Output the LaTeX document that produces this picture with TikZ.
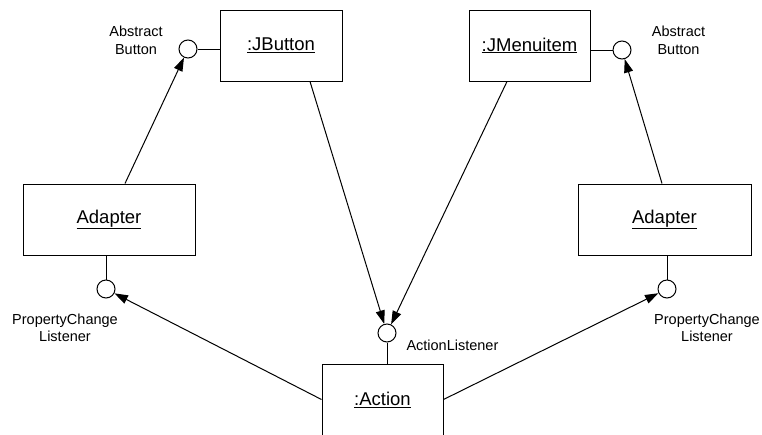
\documentclass[tikz,border=0pt]{standalone}
\usepackage{fontspec}
\setmainfont{Liberation Sans}
\usetikzlibrary{arrows.meta}
\begin{document}
\begin{tikzpicture}[x=1pt,y=-1pt,
  every path/.style={line width=1pt},
  objbox/.style={draw, line width=1pt, minimum height=71pt, inner sep=0pt,
    font=\fontsize{18.5}{22}\selectfont},
  iface/.style={draw, circle, line width=1pt, minimum size=18pt, inner sep=0pt, fill=white},
  lbl/.style={font=\fontsize{14.5}{17.5}\selectfont, align=center, inner sep=0pt},
  dep/.style={-{Triangle[length=13.5pt,width=9pt]}, line width=1pt}]
\useasboundingbox (0,0) rectangle (762,434);

% objects
\node[objbox, minimum width=122pt] (jbutton) at (281,45.5) {\underline{:JButton}};
\node[objbox, minimum width=121pt] (jmenu) at (529.5,45.5) {\underline{:JMenuitem}};
\node[objbox, minimum width=172pt] (adL) at (109,219.5) {\underline{Adapter}};
\node[objbox, minimum width=173pt] (adR) at (664.5,219.5) {\underline{Adapter}};
\node[objbox, minimum width=121pt] (action) at (382.5,399.5) {\underline{:Action}};

% provided interfaces (lollipops)
\node[iface] (abL) at (188,49) {};
\node[iface] (abR) at (622,50) {};
\node[iface] (pclL) at (106,289) {};
\node[iface] (pclR) at (667,289) {};
\node[iface] (al) at (387,333) {};

\draw (abL) -- (jbutton.west |- abL);
\draw (abR) -- (jmenu.east |- abR);
\draw (pclL) -- (adL.south -| pclL);
\draw (pclR) -- (adR.south -| pclR);
\draw (al) -- (action.north -| al);

% interface labels
\node[lbl] (abLt) at (136,40.5) {Abstract\\Button};
\node[lbl] (abRt) at (678.5,40.5) {Abstract\\Button};
\node[lbl] (pclLt) at (65,328) {PropertyChange\\Listener};
\node[lbl] (pclRt) at (707,328) {PropertyChange\\Listener};
\node[lbl, anchor=west] (alt) at (406,345) {ActionListener};

% dependencies
\draw[dep] ([xshift=16pt]adL.north) -- (abL);
\draw[dep] ([xshift=-2.5pt]adR.north) -- (abR);
\draw[dep] ([xshift=29pt]jbutton.south) -- (al);
\draw[dep] ([xshift=-22.5pt]jmenu.south) -- (al);
\draw[dep] (action.west) -- (pclL);
\draw[dep] (action.east) -- (pclR);
\end{tikzpicture}
\end{document}
